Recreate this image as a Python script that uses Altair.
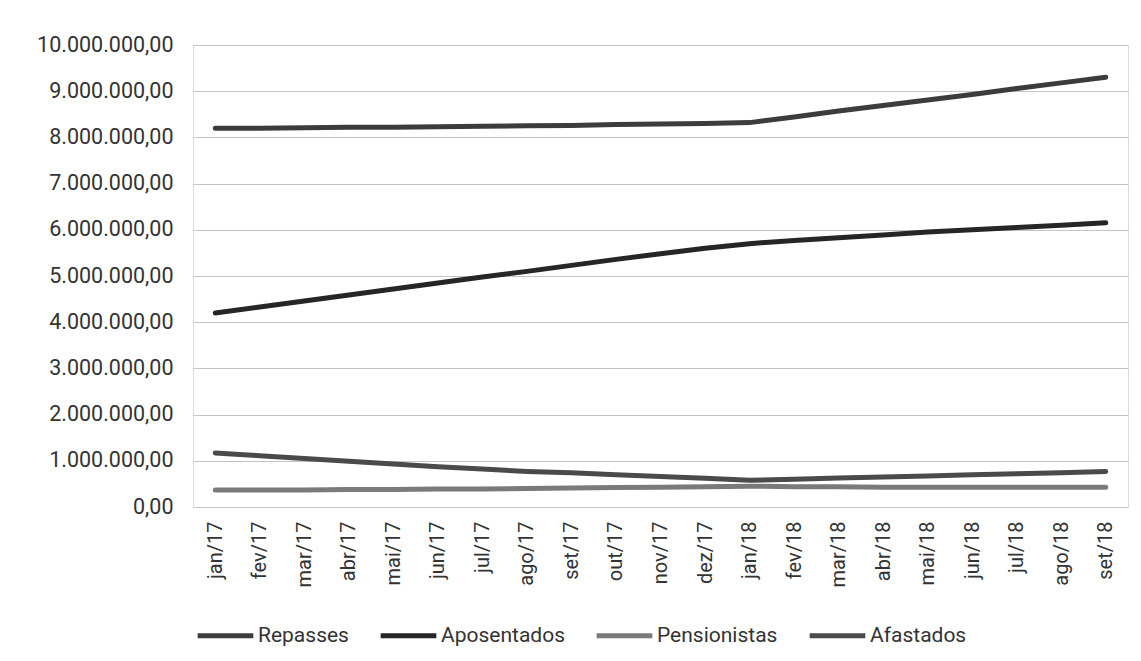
import altair as alt
import pandas as pd

months = ["jan/17", "fev/17", "mar/17", "abr/17", "mai/17", "jun/17", "jul/17",
          "ago/17", "set/17", "out/17", "nov/17", "dez/17", "jan/18", "fev/18",
          "mar/18", "abr/18", "mai/18", "jun/18", "jul/18", "ago/18", "set/18"]

repasses = [8200000, 8200000, 8210000, 8220000, 8220000, 8230000, 8240000,
            8250000, 8260000, 8280000, 8290000, 8300000, 8320000, 8440000,
            8570000, 8690000, 8810000, 8930000, 9060000, 9180000, 9300000]

aposentados = [4200000, 4330000, 4460000, 4590000, 4720000, 4850000, 4980000,
               5100000, 5230000, 5360000, 5480000, 5600000, 5700000, 5770000,
               5830000, 5890000, 5950000, 6000000, 6050000, 6100000, 6150000]

pensionistas = [370000, 370000, 370000, 380000, 380000, 390000, 390000,
                400000, 410000, 420000, 430000, 440000, 450000, 440000,
                440000, 430000, 430000, 430000, 430000, 430000, 430000]

afastados = [1170000, 1110000, 1050000, 990000, 930000, 870000, 820000,
             770000, 740000, 700000, 660000, 620000, 580000, 600000,
             630000, 650000, 670000, 700000, 720000, 740000, 770000]

series_names = ["Repasses", "Aposentados", "Pensionistas", "Afastados"]
series_colors = ["#3c3c3c", "#262626", "#7a7a7a", "#4a4a4a"]
y_ticks = [0, 1000000, 2000000, 3000000, 4000000, 5000000, 6000000,
           7000000, 8000000, 9000000, 10000000]

rows = []
for name, vals in zip(series_names, [repasses, aposentados, pensionistas, afastados]):
    for m, v in zip(months, vals):
        rows.append({"mes": m, "valor": v, "serie": name})
df = pd.DataFrame(rows)

FONT = "Roboto"
TXT = "#333333"

chart = alt.Chart(df).mark_line(strokeWidth=5, strokeCap="round").encode(
    x=alt.X("mes:N", sort=months,
            scale=alt.Scale(type="point", padding=0.5),
            axis=alt.Axis(title=None, labelAngle=-90, labelFont=FONT,
                          labelFontSize=20, labelColor=TXT, ticks=False,
                          labelPadding=14, domain=False, grid=False)),
    y=alt.Y("valor:Q",
            scale=alt.Scale(domain=[0, 10000000], nice=False),
            axis=alt.Axis(title=None, values=y_ticks, labelFont=FONT,
                          labelFontSize=21.5, labelColor=TXT, ticks=False,
                          domain=False, labelPadding=20, gridColor="#c4c4c4",
                          gridWidth=1.2,
                          labelExpr="datum.value == 0 ? '0,00' : format(datum.value / 1000000, 'd') + '.000.000,00'")),
    color=alt.Color("serie:N",
                    scale=alt.Scale(domain=series_names, range=series_colors),
                    legend=alt.Legend(title=None, orient="none", direction="horizontal",
                                      legendX=2, legendY=560,
                                      symbolType="stroke", symbolStrokeWidth=5,
                                      symbolSize=3100, labelFont=FONT,
                                      labelFontSize=21, labelColor=TXT,
                                      labelOffset=2, columnPadding=21)),
    order=alt.Order("serie:N")
).properties(
    width=935,
    height=462,
    autosize=alt.AutoSizeParams(type="none"),
    padding={"left": 185, "top": 37, "right": 5, "bottom": 140},
).configure_view(
    stroke=None
).configure(
    background="white"
)

chart.save("out.html", embed_options={"renderer": "svg", "actions": False})
